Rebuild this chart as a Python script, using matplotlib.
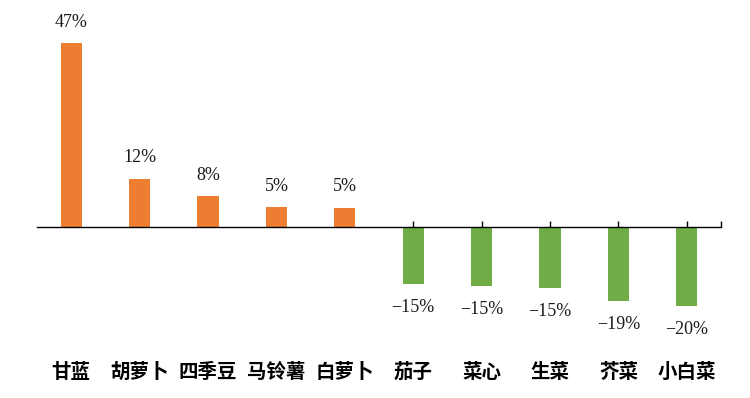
import matplotlib.pyplot as plt
import matplotlib.transforms as mtransforms

categories = ["甘蓝", "胡萝卜", "四季豆", "马铃薯", "白萝卜", "茄子", "菜心", "生菜", "芥菜", "小白菜"]
values = [47.0, 12.3, 7.9, 5.1, 4.9, -14.6, -15.1, -15.5, -18.9, -20.2]
labels = ["47%", "12%", "8%", "5%", "5%", "−15%", "−15%", "−15%", "−19%", "−20%"]

orange = "#ED7D31"
green = "#70AD47"

fig = plt.figure(figsize=(7.5, 3.98), dpi=100)
ax = fig.add_axes([37 / 750, 1 - 340 / 398, 684 / 750, 330 / 398])

x = list(range(len(categories)))
colors = [orange if v >= 0 else green for v in values]
ax.bar(x, values, width=0.31, color=colors, zorder=2)

ax.set_xlim(-0.5, 9.5)
ax.set_ylim(-28.9, 55.4)

for s in ["top", "right", "left"]:
    ax.spines[s].set_visible(False)
ax.spines["bottom"].set_position(("data", 0))
ax.spines["bottom"].set_color("black")
ax.spines["bottom"].set_linewidth(1.0)
ax.spines["bottom"].set_zorder(3)
ax.set_yticks([])
ax.set_xticks(x + [9.5])
ax.set_xticklabels([])
ax.tick_params(axis="x", direction="in", length=4, width=1, color="black")

for xi, v, lab in zip(x, values, labels):
    off = 15 if v >= 0 else -17
    ax.annotate(lab, (xi, v), xytext=(0, off), textcoords="offset points",
                ha="center", va="center", fontsize=13,
                family=["Liberation Serif", "DejaVu Serif"], color="#1a1a1a")

trans = mtransforms.blended_transform_factory(ax.transData, fig.transFigure)
for xi, c in zip(x, categories):
    ax.text(xi, 1 - 372 / 398, c, transform=trans, ha="center", va="center",
            fontsize=14, fontweight="bold",
            family=["Noto Sans CJK SC", "DejaVu Sans"], color="black")

fig.savefig("out.png", dpi=100)
